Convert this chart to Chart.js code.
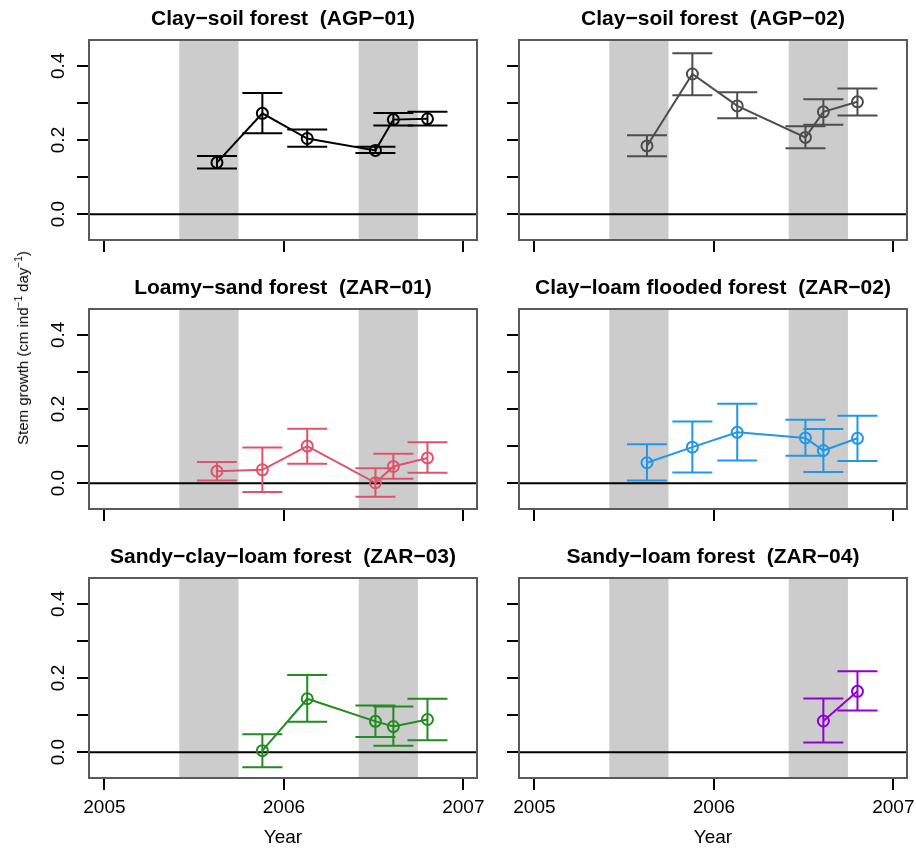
<!DOCTYPE html>
<html>
<head>
<meta charset="utf-8">
<title>Stem growth</title>
<script src="https://cdn.jsdelivr.net/npm/chart.js@4/dist/chart.umd.min.js"></script>
<style>
  body { margin: 0; background: #fff; }
  #wrap { position: relative; width: 916px; height: 850px; font-family: "Liberation Sans", Arial, sans-serif; }
  #wrap canvas { position: absolute; }
  #ylab {
    position: absolute; left: 22px; top: 348px;
    transform: translate(-50%, -50%) rotate(-90deg);
    white-space: nowrap; font-size: 15px; color: #000;
  }
  #ylab sup { font-size: 10px; }
</style>
</head>
<body>
<div id="wrap">
  <canvas id="p1"></canvas>
  <canvas id="p2"></canvas>
  <canvas id="p3"></canvas>
  <canvas id="p4"></canvas>
  <canvas id="p5"></canvas>
  <canvas id="p6"></canvas>
  <div id="ylab">Stem growth (cm ind<sup>−1</sup> day<sup>−1</sup>)</div>
</div>
<script>
// census dates (decimal years), shared by all plots
const xYears = [2005.627, 2005.88, 2006.13, 2006.51, 2006.61, 2006.80];
const xTicks = [2005, 2006, 2007];
const yTicks = [0, 0.1, 0.2, 0.3, 0.4];
const yLabelled = [0, 0.2, 0.4];
// dry season bands
const dryBands = [[2005.417, 2005.747], [2006.417, 2006.747]];

const agp01Mean = [0.139, 0.272, 0.204, 0.172, 0.255, 0.257];
const agp01Low  = [0.123, 0.218, 0.182, 0.165, 0.239, 0.239];
const agp01High = [0.157, 0.327, 0.228, 0.182, 0.273, 0.276];

const agp02Mean = [0.184, 0.378, 0.292, 0.207, 0.276, 0.303];
const agp02Low  = [0.156, 0.321, 0.259, 0.178, 0.241, 0.266];
const agp02High = [0.213, 0.434, 0.329, 0.237, 0.310, 0.339];

const zar01Mean = [0.032, 0.036, 0.100, 0.001, 0.045, 0.068];
const zar01Low  = [0.007, -0.024, 0.052, -0.037, 0.012, 0.028];
const zar01High = [0.057, 0.096, 0.147, 0.040, 0.079, 0.110];

const zar02Mean = [0.055, 0.097, 0.137, 0.122, 0.088, 0.121];
const zar02Low  = [0.007, 0.029, 0.061, 0.074, 0.030, 0.060];
const zar02High = [0.105, 0.166, 0.214, 0.171, 0.146, 0.182];

const zar03Mean = [null, 0.004, 0.144, 0.083, 0.069, 0.088];
const zar03Low  = [null, -0.041, 0.082, 0.041, 0.017, 0.032];
const zar03High = [null, 0.048, 0.208, 0.126, 0.123, 0.144];

const zar04Mean = [null, null, null, null, 0.084, 0.164];
const zar04Low  = [null, null, null, null, 0.026, 0.112];
const zar04High = [null, null, null, null, 0.145, 0.218];

const panels = [
  { id: "p1", title: "Clay−soil forest  (AGP−01)", mean: agp01Mean, low: agp01Low, high: agp01High, color: "#000000" },
  { id: "p2", title: "Clay−soil forest  (AGP−02)", mean: agp02Mean, low: agp02Low, high: agp02High, color: "#4d4d4d" },
  { id: "p3", title: "Loamy−sand forest  (ZAR−01)", mean: zar01Mean, low: zar01Low, high: zar01High, color: "#df536b" },
  { id: "p4", title: "Clay−loam flooded forest  (ZAR−02)", mean: zar02Mean, low: zar02Low, high: zar02High, color: "#2297e6" },
  { id: "p5", title: "Sandy−clay−loam forest  (ZAR−03)", mean: zar03Mean, low: zar03Low, high: zar03High, color: "#228b22" },
  { id: "p6", title: "Sandy−loam forest  (ZAR−04)", mean: zar04Mean, low: zar04Low, high: zar04High, color: "#9400d3" }
];

Chart.defaults.font.family = '"Liberation Sans", Arial, sans-serif';
Chart.defaults.color = "#000";

const CAP = 20; // half width of error bar caps, px

const panelDeco = {
  id: "panelDeco",
  beforeDatasetsDraw(chart, args, opts) {
    const { ctx, chartArea: a, scales: { x, y } } = chart;
    ctx.save();
    ctx.fillStyle = "#cccccc";
    dryBands.forEach(([s, e]) => {
      const x0 = x.getPixelForValue(s), x1 = x.getPixelForValue(e);
      ctx.fillRect(x0, a.top, x1 - x0, a.bottom - a.top);
    });
    const y0 = y.getPixelForValue(0);
    ctx.strokeStyle = "#000";
    ctx.lineWidth = 2;
    ctx.beginPath();
    ctx.moveTo(a.left, y0);
    ctx.lineTo(a.right, y0);
    ctx.stroke();

    ctx.strokeStyle = opts.color;
    opts.low.forEach((lo, i) => {
      if (lo == null) return;
      const px = x.getPixelForValue(xYears[i]);
      const pl = y.getPixelForValue(lo);
      const ph = y.getPixelForValue(opts.high[i]);
      ctx.beginPath();
      ctx.moveTo(px, pl); ctx.lineTo(px, ph);
      ctx.moveTo(px - CAP, pl); ctx.lineTo(px + CAP, pl);
      ctx.moveTo(px - CAP, ph); ctx.lineTo(px + CAP, ph);
      ctx.stroke();
    });
    ctx.restore();
  },
  afterDraw(chart) {
    const { ctx, chartArea: a } = chart;
    ctx.save();
    ctx.strokeStyle = "#5a5a5a";
    ctx.lineWidth = 2;
    ctx.strokeRect(a.left, a.top, a.right - a.left, a.bottom - a.top);
    ctx.restore();
  }
};

panels.forEach((p, k) => {
  const col = k % 2, row = Math.floor(k / 2);
  const left = col === 0 ? 0 : 498;
  const width = col === 0 ? 498 : 418;
  const top = row * 269;
  const height = row === 2 ? 312 : 269;
  const bottomRow = row === 2;

  const cv = document.getElementById(p.id);
  cv.width = width;
  cv.height = height;
  cv.style.left = left + "px";
  cv.style.top = top + "px";

  const pts = xYears.map((x, i) => ({ x: x, y: p.mean[i] })).filter(d => d.y != null);

  new Chart(cv, {
    type: "line",
    data: {
      datasets: [{
        data: pts,
        borderColor: p.color,
        borderWidth: 2,
        tension: 0,
        pointStyle: "circle",
        pointRadius: 5.5,
        pointBorderWidth: 2,
        pointBorderColor: p.color,
        pointBackgroundColor: "rgba(0,0,0,0)"
      }]
    },
    options: {
      responsive: false,
      animation: false,
      devicePixelRatio: 1,
      layout: { padding: { left: 0, right: col === 0 ? 21 : 9, top: 0, bottom: 0 } },
      plugins: {
        legend: { display: false },
        tooltip: { enabled: false },
        title: {
          display: true,
          text: p.title,
          fullSize: false,
          font: { size: 21, weight: "bold" },
          color: "#000",
          padding: { top: 7, bottom: 7.8 }
        },
        panelDeco: { color: p.color, low: p.low, high: p.high }
      },
      scales: {
        x: {
          type: "linear",
          min: 2004.914,
          max: 2007.076,
          afterBuildTicks: s => { s.ticks = xTicks.map(v => ({ value: v })); },
          afterFit: s => {
            s.height = bottomRow ? 72 : 29;
            s.paddingLeft = 0;
            s.paddingRight = 0;
          },
          border: { display: false },
          grid: { drawOnChartArea: false, drawTicks: true, tickLength: 12, color: "#000", lineWidth: 2 },
          ticks: {
            display: bottomRow,
            font: { size: 19 },
            color: "#000",
            padding: 6,
            maxRotation: 0,
            callback: v => String(v)
          },
          title: {
            display: bottomRow,
            text: "Year",
            font: { size: 19 },
            color: "#000",
            padding: { top: 0, bottom: 1 }
          }
        },
        y: {
          type: "linear",
          min: -0.0698,
          max: 0.4698,
          afterBuildTicks: s => { s.ticks = yTicks.map(v => ({ value: v })); },
          afterFit: s => { s.width = col === 0 ? 89 : 21; },
          border: { display: false },
          grid: { drawOnChartArea: false, drawTicks: true, tickLength: 12, color: "#000", lineWidth: 2 },
          ticks: {
            display: true,
            font: { size: 19 },
            color: "#000",
            padding: 5,
            minRotation: 90,
            maxRotation: 90,
            crossAlign: "center",
            callback: v => (col === 0 && yLabelled.some(l => Math.abs(l - v) < 1e-9)) ? v.toFixed(1) : ""
          }
        }
      }
    },
    plugins: [panelDeco]
  });
});
</script>
</body>
</html>
